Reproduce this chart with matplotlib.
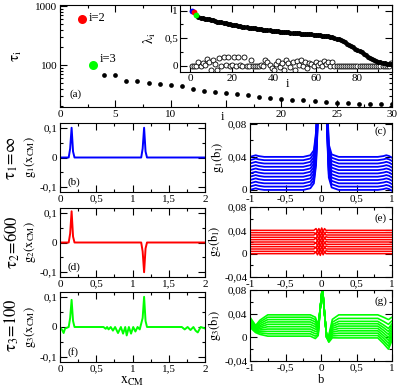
import matplotlib
matplotlib.use('Agg')
import matplotlib.pyplot as plt
from matplotlib.ticker import MultipleLocator, FuncFormatter, LogLocator, NullFormatter, FixedLocator

plt.rcParams['font.family'] = ['Liberation Serif', 'DejaVu Serif']
plt.rcParams['mathtext.fontset'] = 'stix'

# ---- panel (a): relaxation times tau_i ----
tau_i = list(range(4, 31))
tau_vals = [69.3, 69.3, 54, 54, 49, 47.3, 46.2, 45, 40, 36.9, 35.1, 33.7, 32.4, 30.6,
            28.7, 27.7, 26.9, 25.9, 25.2, 24.2, 23.6, 23.2, 22.7, 22.1, 21.8, 21.8, 21.8]
tau2 = 606
tau3 = 100

# ---- inset: lambda_i ----
lam_i = list(range(4, 97))
lam_vals = [0.89, 0.87, 0.86, 0.855, 0.85, 0.84, 0.83, 0.82, 0.81, 0.80, 0.795, 0.785,
            0.78, 0.77, 0.76, 0.75, 0.74, 0.735, 0.73, 0.72, 0.715, 0.71, 0.70, 0.695,
            0.69, 0.685, 0.68, 0.675, 0.67, 0.665, 0.66, 0.655, 0.65, 0.645, 0.64, 0.635,
            0.63, 0.625, 0.62, 0.618, 0.615, 0.61, 0.607, 0.603, 0.60, 0.597, 0.594, 0.59,
            0.587, 0.583, 0.58, 0.577, 0.573, 0.57, 0.566, 0.562, 0.558, 0.554, 0.55,
            0.545, 0.54, 0.535, 0.53, 0.523, 0.515, 0.505, 0.49, 0.475, 0.46, 0.44, 0.42,
            0.40, 0.38, 0.36, 0.335, 0.31, 0.29, 0.265, 0.24, 0.215, 0.19, 0.165, 0.145,
            0.125, 0.105, 0.09, 0.075, 0.06, 0.05, 0.04, 0.035, 0.03, 0.03]
lam_blue, lam_red, lam_green = 1.0, 0.98, 0.92
open_i = list(range(1, 97))
open_vals = [0.0, 0.0, 0.0, 0.07, 0.0, 0.05, 0.02, 0.12, 0.07, -0.08, 0.10, 0.03,
             -0.07, 0.14, 0.0, 0.15, 0.02, 0.15, 0.0, 0.02, 0.15, 0.0, 0.15, 0.02,
             0.0, 0.15, 0.0, 0.0, 0.11, 0.0, 0.0, 0.0, 0.0, 0.02, 0.0, 0.10,
             0.06, 0.02, -0.04, -0.08, 0.03, 0.08, -0.02, 0.05, -0.07, 0.10, 0.04, -0.03,
             0.06, -0.08, 0.08, 0.02, 0.11, 0.0, 0.06, -0.05, 0.04, 0.03, 0.0, 0.07,
             0.02, 0.05, 0.0, 0.08, 0.03, 0.06, 0.0, 0.07] + [0.0] * 27 + [0.04]

# ---- left column: g_k(x_CM) ----
gx_b = [0, 0.12, 0.14, 0.16, 0.18, 0.20, 1.12, 1.14, 1.16, 1.18, 1.20, 2]
g1_x = [0, 0, 0.03, 0.1, 0.02, 0, 0, 0.03, 0.1, 0.02, 0, 0]
g2_x = [0, 0, 0.03, 0.105, 0.02, 0, 0, -0.03, -0.1, -0.02, 0, 0]
gx_f = [0, 0.03, 0.05, 0.07, 0.12, 0.14, 0.16, 0.18, 0.20, 0.60, 0.63, 0.65, 0.67,
        0.70, 0.73, 0.76, 0.80, 0.84, 0.87, 0.90, 0.92, 0.95, 0.98, 1.01, 1.04, 1.07,
        1.10, 1.14, 1.16, 1.18, 1.20, 1.68, 1.72, 1.76, 1.80, 1.84, 1.87, 1.90, 1.94, 2.0]
g3_x = [0, -0.01, -0.02, -0.005, 0, 0.03, 0.09, 0.02, 0, 0, -0.006, 0, -0.008,
        0, -0.012, 0, -0.02, 0, -0.022, 0, -0.028, 0, -0.022, 0, -0.015, 0,
        -0.008, 0.03, 0.1, 0.02, 0, 0, -0.008, 0, -0.01, 0, -0.012, -0.018, 0, -0.005]

# ---- right column: g_k(b_l), stacked curves ----
c_levels = [0.0, 0.004, 0.008, 0.012, 0.016, 0.020, 0.024, 0.028, 0.032, 0.036, 0.040]
c_b = [-1, -0.96, -0.92, -0.88, -0.8, -0.25, -0.15, -0.1, -0.07, -0.04, -0.02, 0.015,
       0.05, 0.085, 0.11, 0.15, 0.25, 0.8, 0.88, 0.92, 0.96, 1]
c_dev = [0, 0.001, 0.002, 0.001, 0, 0, 0.002, 0.008, 0.03, 0.09, 0.2, 0.3,
         0.2, 0.07, 0.015, 0.003, 0, 0, 0.001, 0.002, 0.001, -0.001]

e_levels = [0.0, 0.004, 0.008, 0.012, 0.016, 0.020, 0.024, 0.028, 0.032, 0.036, 0.040]
e_b = [-1, -0.1, -0.07, -0.05, -0.03, -0.01, 0.01, 0.03, 0.05, 0.07, 0.1, 1]
e_dev_a = [0, 0, 0.003, -0.002, 0.003, -0.003, 0.004, -0.002, 0.003, 0, 0, 0]
e_dev_b = [0, 0, -0.002, 0.003, -0.003, 0.004, -0.002, 0.003, -0.002, 0.001, 0, 0]

g_b = [-1, -0.96, -0.92, -0.86, -0.75, -0.15, -0.08, -0.04, -0.01, 0.02, 0.05, 0.08,
       0.11, 0.16, 0.25, 0.8, 0.88, 0.95, 1]
g_left_start = [0.034, 0.031, 0.029, 0.027, 0.025, 0.023, 0.021, 0.019, 0.018, 0.017]
g_left_dip = [0.020, 0.018, 0.016, 0.014, 0.013, 0.012, 0.011, 0.010, 0.009, 0.008]
g_left = [0.038, 0.034, 0.030, 0.026, 0.022, 0.018, 0.014, 0.010, 0.006, 0.002]
g_right = [0.038, 0.032, 0.027, 0.023, 0.019, 0.015, 0.011, 0.007, 0.003, -0.001]
g_right_dip = [0.030, 0.022, 0.015, 0.010, 0.005, 0.0, -0.005, -0.010, -0.015, -0.020]


def comma(v, pos):
    return ('%g' % v).replace('.', ',')


def pos(l, t, r, b):
    return [l / 399, 1 - b / 390, (r - l) / 399, (b - t) / 390]


def style(ax, xmaj, xmin, ymaj, ymin):
    ax.xaxis.set_major_locator(MultipleLocator(xmaj))
    ax.xaxis.set_minor_locator(MultipleLocator(xmin))
    ax.yaxis.set_major_locator(MultipleLocator(ymaj))
    ax.yaxis.set_minor_locator(MultipleLocator(ymin))
    ax.xaxis.set_major_formatter(FuncFormatter(comma))
    ax.yaxis.set_major_formatter(FuncFormatter(comma))
    ax.tick_params(which='both', direction='in', top=True, right=True, labelsize=8, pad=2)
    ax.tick_params(which='major', length=5, width=0.8)
    ax.tick_params(which='minor', length=2.5, width=0.8)


fig = plt.figure(figsize=(3.99, 3.90), dpi=100)

# panel (a)
ax = fig.add_axes(pos(60, 5, 392, 107))
ax.set_yscale('log')
ax.plot(tau_i, tau_vals, 'o', color='black', ms=3.4, mew=0)
ax.plot([2], [tau2], 'o', color='#ff0000', ms=6.5, mew=0)
ax.plot([3], [tau3], 'o', color='#00ff00', ms=6.5, mew=0)
ax.text(2.6, 620, 'i=2', fontsize=9, va='center')
ax.text(3.6, 125, 'i=3', fontsize=9, va='center')
ax.text(0.03, 0.1, '(a)', transform=ax.transAxes, fontsize=8)
ax.set_xlim(0, 30)
ax.set_ylim(19.5, 1050)
ax.xaxis.set_major_locator(MultipleLocator(5))
ax.xaxis.set_minor_locator(MultipleLocator(2.5))
ax.xaxis.set_major_formatter(FuncFormatter(lambda v, p: '' if v == 15 else '%g' % v))
ax.yaxis.set_major_locator(FixedLocator([100, 1000]))
ax.yaxis.set_major_formatter(FuncFormatter(lambda v, p: '%d' % v))
ax.yaxis.set_minor_locator(LogLocator(base=10, subs=range(2, 10)))
ax.yaxis.set_minor_formatter(NullFormatter())
ax.tick_params(which='both', direction='in', top=True, right=True, labelsize=8, pad=2)
ax.tick_params(which='major', length=5, width=0.8)
ax.tick_params(which='minor', length=2.5, width=0.8)
ax.set_ylabel(r'$\mathrm{\tau_{i}}$', fontsize=11, labelpad=8)
fig.text(222 / 399, 1 - 117 / 390, 'i', fontsize=9, ha='center', va='center')

# inset
ax = fig.add_axes(pos(180, 5, 392, 72))
ax.plot(open_i, open_vals, 'o', mfc='white', mec='black', ms=3.6, mew=0.6)
ax.plot(lam_i, lam_vals, 'o', color='black', ms=3.6, mew=0)
ax.plot([1], [lam_blue], 'o', color='#0000ff', ms=4.2, mew=0)
ax.plot([2], [lam_red], 'o', color='#ff0000', ms=4.2, mew=0)
ax.plot([3], [lam_green], 'o', color='#00ff00', ms=4.2, mew=0)
ax.set_xlim(-4.8, 96.5)
ax.set_ylim(-0.115, 1.1)
style(ax, 20, 10, 0.5, 0.25)
ax.set_yticks([0, 0.5, 1])
ax.set_yticklabels(['0', '0,5', '1'])
ax.tick_params(labelsize=8, pad=1.5)
fig.text(150 / 399, 1 - 38 / 390, r'$\mathrm{\lambda_{i}}$', fontsize=10, rotation=90,
         ha='center', va='center')
fig.text(287 / 399, 1 - 84 / 390, 'i', fontsize=9, ha='center', va='center')

# left column
left_specs = [
    ((60, 123, 205, 192), gx_b, g1_x, '#0000ff', '(b)', r'$\mathrm{g_1(x_{CM})}$'),
    ((60, 208, 205, 277), gx_b, g2_x, '#ff0000', '(d)', r'$\mathrm{g_2(x_{CM})}$'),
    ((60, 292, 205, 362), gx_f, g3_x, '#00ff00', '(f)', r'$\mathrm{g_3(x_{CM})}$'),
]
for box, xs, ys, col, lab, ylab in left_specs:
    ax = fig.add_axes(pos(*box))
    ax.plot(xs, ys, color=col, lw=1.4)
    ax.set_xlim(0, 2)
    ax.set_ylim(-0.116, 0.116)
    style(ax, 0.5, 0.25, 0.1, 0.05)
    ax.text(0.05, 0.1, lab, transform=ax.transAxes, fontsize=8)
    ax.set_ylabel(ylab, fontsize=9, labelpad=1)
ax.set_xlabel(r'$\mathrm{x_{CM}}$', fontsize=10, labelpad=1)

# right column
ax = fig.add_axes(pos(250, 123, 392, 192))
for lev in c_levels:
    ax.plot(c_b, [lev + d for d in c_dev], color='#0000ff', lw=1.3)
ax.set_xlim(-1, 1)
ax.set_ylim(-0.0025, 0.081)
style(ax, 0.5, 0.25, 0.04, 0.02)
ax.text(0.88, 0.85, '(c)', transform=ax.transAxes, fontsize=8)
ax.set_ylabel(r'$\mathrm{g_1(b_{l})}$', fontsize=9, labelpad=1)

ax = fig.add_axes(pos(250, 207, 392, 277))
for k, lev in enumerate(e_levels):
    dev = e_dev_a if k % 2 == 0 else e_dev_b
    ax.plot(e_b, [lev + d for d in dev], color='#ff0000', lw=1.1)
ax.set_xlim(-1, 1)
ax.set_ylim(-0.04, 0.08)
style(ax, 0.5, 0.25, 0.04, 0.02)
ax.text(0.88, 0.8, '(e)', transform=ax.transAxes, fontsize=8)
ax.set_ylabel(r'$\mathrm{g_2(b_{l})}$', fontsize=9, labelpad=1)

ax = fig.add_axes(pos(250, 290, 392, 361))
for k in range(len(g_left)):
    L, R = g_left[k], g_right[k]
    ys = [g_left_start[k], 0.5 * (g_left_start[k] + g_left_dip[k]), g_left_dip[k],
          0.5 * (g_left_dip[k] + L), L, L, L - 0.004, 0.5 * L + 0.002, 0.05, 0.085,
          0.04, 0.0, -0.008 + 0.3 * R, 0.8 * R, R, R, 0.5 * (R + g_right_dip[k]),
          g_right_dip[k], R - 0.004]
    ax.plot(g_b, ys, color='#00ff00', lw=1.2)
ax.set_xlim(-1, 1)
ax.set_ylim(-0.04, 0.08)
style(ax, 0.5, 0.25, 0.04, 0.02)
ax.text(0.88, 0.8, '(g)', transform=ax.transAxes, fontsize=8)
ax.set_ylabel(r'$\mathrm{g_3(b_{l})}$', fontsize=9, labelpad=1)
ax.set_xlabel('b', fontsize=9, labelpad=1)

# row labels
fig.text(12 / 399, 1 - 158 / 390, r'$\mathrm{\tau_1\!=\!\infty}$', rotation=90, fontsize=12,
         ha='center', va='center')
fig.text(12 / 399, 1 - 242 / 390, r'$\mathrm{\tau_2\!=\!600}$', rotation=90, fontsize=12,
         ha='center', va='center')
fig.text(12 / 399, 1 - 325 / 390, r'$\mathrm{\tau_3\!=\!100}$', rotation=90, fontsize=12,
         ha='center', va='center')

fig.savefig('out.png', dpi=100)
